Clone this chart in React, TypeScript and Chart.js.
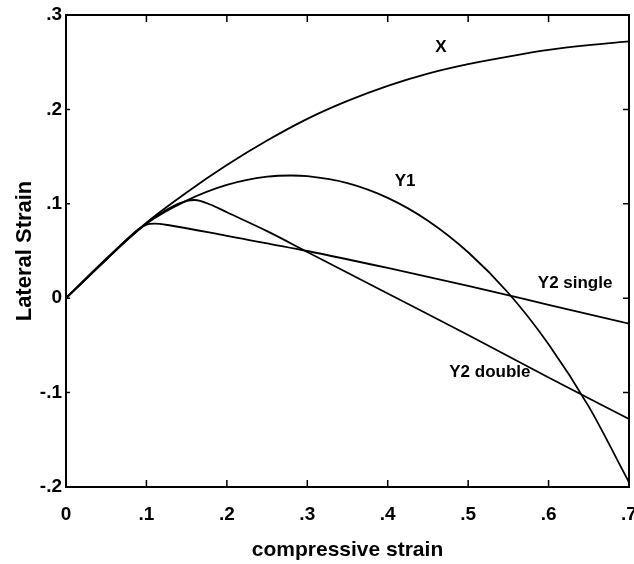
import React, { useEffect, useRef } from "react";
import { Chart, registerables } from "chart.js";

Chart.register(...registerables);

// ---- data ----
const xStrain = [0, 0.05, 0.1, 0.15, 0.2, 0.25, 0.3, 0.35, 0.4, 0.45, 0.5, 0.55, 0.6, 0.65, 0.7];
const xLateral = [0, 0.042, 0.08, 0.112, 0.141, 0.167, 0.19, 0.209, 0.225, 0.238, 0.248, 0.256, 0.263, 0.268, 0.272];

const y1Strain = [0, 0.05, 0.1, 0.15, 0.2, 0.25, 0.28, 0.3, 0.35, 0.4, 0.45, 0.5, 0.55, 0.6, 0.65, 0.7];
const y1Lateral = [0, 0.041, 0.079, 0.1034, 0.12, 0.1287, 0.13, 0.1293, 0.1219, 0.1063, 0.0821, 0.0487, 0.0055, -0.0487, -0.1149, -0.195];

const y2SingleStrain = [0, 0.05, 0.09, 0.1, 0.11, 0.13, 0.2, 0.3, 0.4, 0.5, 0.6, 0.7];
const y2SingleLateral = [0, 0.041, 0.073, 0.078, 0.079, 0.077, 0.066, 0.05, 0.032, 0.013, -0.007, -0.027];

const y2DoubleStrain = [0, 0.05, 0.1, 0.13, 0.15, 0.16, 0.18, 0.2, 0.25, 0.3, 0.4, 0.5, 0.6, 0.7];
const y2DoubleLateral = [0, 0.041, 0.079, 0.096, 0.103, 0.104, 0.099, 0.091, 0.071, 0.049, 0.005, -0.039, -0.084, -0.128];

const curveLabels = ["X", "Y1", "Y2 single", "Y2 double"];
const labelStrain = [0.466, 0.4216, 0.633, 0.527];
const labelLateral = [0.266, 0.124, 0.016, -0.078];

const xTicks = [0, 0.1, 0.2, 0.3, 0.4, 0.5, 0.6, 0.7];
const yTicks = [-0.2, -0.1, 0, 0.1, 0.2, 0.3];

const FONT = "'Liberation Sans', Arial, Helvetica, sans-serif";

const toPts = (xs: number[], ys: number[]) => xs.map((x, i) => ({ x, y: ys[i] }));

const fmt = (v: number) => {
  if (Math.abs(v) < 1e-9) return "0";
  return v.toFixed(1).replace("0.", ".");
};

const decorPlugin = {
  id: "decor",
  afterDatasetsDraw(chart: any) {
    const { ctx, chartArea, scales } = chart;
    const xs = scales.x;
    const ys = scales.y;
    ctx.save();
    ctx.strokeStyle = "#000";
    ctx.lineWidth = 1.5;
    const tl = 7;
    ctx.beginPath();
    xTicks.forEach((v) => {
      const px = xs.getPixelForValue(v);
      ctx.moveTo(px, chartArea.bottom);
      ctx.lineTo(px, chartArea.bottom - tl);
      ctx.moveTo(px, chartArea.top);
      ctx.lineTo(px, chartArea.top + tl);
    });
    yTicks.forEach((v) => {
      const py = ys.getPixelForValue(v);
      ctx.moveTo(chartArea.left, py);
      ctx.lineTo(chartArea.left + 4, py);
      ctx.moveTo(chartArea.right, py);
      ctx.lineTo(chartArea.right - 6, py);
    });
    ctx.stroke();
    // frame
    ctx.lineWidth = 2;
    ctx.strokeRect(chartArea.left, chartArea.top, chartArea.right - chartArea.left, chartArea.bottom - chartArea.top);
    // curve labels
    ctx.fillStyle = "#000";
    ctx.font = `bold 17px ${FONT}`;
    ctx.textAlign = "center";
    ctx.textBaseline = "middle";
    curveLabels.forEach((t, i) => {
      ctx.fillText(t, xs.getPixelForValue(labelStrain[i]), ys.getPixelForValue(labelLateral[i]));
    });
    ctx.restore();
  },
};

export default function App() {
  const ref = useRef<HTMLCanvasElement | null>(null);

  useEffect(() => {
    document.body.style.margin = "0";
    const canvas = ref.current;
    if (!canvas) return;
    const line = (xs: number[], ys: number[]) => ({
      data: toPts(xs, ys),
      borderColor: "#000",
      borderWidth: 1.8,
      pointRadius: 0,
      fill: false,
      cubicInterpolationMode: "monotone" as const,
    });
    const chart = new Chart(canvas, {
      type: "line",
      data: {
        datasets: [
          { label: "X", ...line(xStrain, xLateral) },
          { label: "Y1", ...line(y1Strain, y1Lateral) },
          { label: "Y2 single", ...line(y2SingleStrain, y2SingleLateral) },
          { label: "Y2 double", ...line(y2DoubleStrain, y2DoubleLateral) },
        ],
      },
      options: {
        responsive: false,
        animation: false,
        layout: { padding: { left: 0, right: 5, top: 15, bottom: 0 } },
        plugins: { legend: { display: false }, tooltip: { enabled: false } },
        scales: {
          x: {
            type: "linear",
            min: 0,
            max: 0.7,
            grid: { display: false, drawTicks: false },
            border: { display: false },
            ticks: {
              stepSize: 0.1,
              padding: 16,
              color: "#000",
              font: { family: FONT, size: 19, weight: "bold" },
              maxRotation: 0,
              callback: (v: any) => fmt(Number(v)),
            },
            title: {
              display: true,
              text: "compressive strain",
              color: "#000",
              font: { family: FONT, size: 21, weight: "bold" },
              padding: { top: 0, bottom: 1 },
            },
            afterFit: (s: any) => {
              s.height = 77;
              s.paddingLeft = 0;
              s.paddingRight = 0;
            },
          },
          y: {
            type: "linear",
            min: -0.2,
            max: 0.3,
            grid: { display: false, drawTicks: false },
            border: { display: false },
            ticks: {
              stepSize: 0.1,
              padding: 4,
              color: "#000",
              font: { family: FONT, size: 19, weight: "bold" },
              callback: (v: any) => fmt(Number(v)),
            },
            title: {
              display: true,
              text: "Lateral Strain",
              color: "#000",
              font: { family: FONT, size: 22, weight: "bold" },
              padding: { top: 12, bottom: 0 },
            },
            afterFit: (s: any) => {
              s.width = 66;
              s.paddingTop = 0;
              s.paddingBottom = 0;
            },
          },
        },
      },
      plugins: [decorPlugin],
    });
    return () => chart.destroy();
  }, []);

  return (
    <div style={{ position: "absolute", left: 0, top: 0, width: 634, height: 564, background: "#fff" }}>
      <canvas ref={ref} width={634} height={564} style={{ display: "block" }} />
    </div>
  );
}
